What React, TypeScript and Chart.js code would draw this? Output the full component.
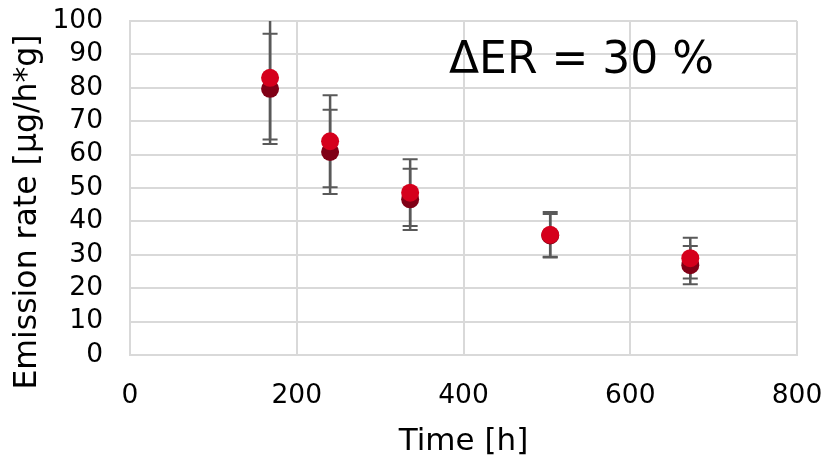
import React, { useEffect, useRef } from "react";
import { Chart, registerables } from "chart.js";

Chart.register(...registerables);

// Sampling times [h]
const timeHours = [168, 240, 336, 504, 672];
// Bright red series (drawn on top)
const brightMeans = [83, 64, 48.6, 36, 29];
const brightErrors = [18.5, 13.8, 10, 6.8, 6.1];
// Dark red series (drawn behind)
const darkMeans = [79.7, 60.8, 46.6, 35.8, 26.9];
const darkErrors = [16.5, 12.6, 9.2, 6.4, 5.7];

const xTickValues = [0, 200, 400, 600, 800];
const yTickValues = [0, 10, 20, 30, 40, 50, 60, 70, 80, 90, 100];

const xTitle = "Time [h]";
const yTitle = "Emission rate [µg/h*g]";
const annotation = "ΔER = 30 %";

const FONT = "'DejaVu Sans', Verdana, sans-serif";
const BRIGHT = "#D5001C";
const DARK = "#800016";
const ERR = "#595959";
const GRID = "#d9d9d9";

function zeroPadding(s: any) {
  s.paddingTop = 0;
  s.paddingBottom = 0;
  s.paddingLeft = 0;
  s.paddingRight = 0;
}

export default function App() {
  const ref = useRef<HTMLCanvasElement>(null);

  useEffect(() => {
    document.body.style.margin = "0";
    const canvas = ref.current!;

    const errorBars = {
      id: "errorBars",
      beforeDatasetsDraw(chart: any) {
        const { ctx, chartArea, scales } = chart;
        const sets = [
          { means: darkMeans, errs: darkErrors },
          { means: brightMeans, errs: brightErrors },
        ];
        ctx.save();
        ctx.beginPath();
        ctx.rect(chartArea.left, chartArea.top, chartArea.right - chartArea.left, chartArea.bottom - chartArea.top);
        ctx.clip();
        ctx.strokeStyle = ERR;
        const cap = 7.5;
        for (const s of sets) {
          s.means.forEach((m, i) => {
            const x = scales.x.getPixelForValue(timeHours[i]);
            const yTop = scales.y.getPixelForValue(m + s.errs[i]);
            const yBot = scales.y.getPixelForValue(m - s.errs[i]);
            ctx.lineWidth = 2.5;
            ctx.beginPath();
            ctx.moveTo(x, yTop);
            ctx.lineTo(x, yBot);
            ctx.stroke();
            ctx.lineWidth = 2;
            ctx.beginPath();
            ctx.moveTo(x - cap, yTop);
            ctx.lineTo(x + cap, yTop);
            ctx.moveTo(x - cap, yBot);
            ctx.lineTo(x + cap, yBot);
            ctx.stroke();
          });
        }
        ctx.restore();
      },
    };

    const texts = {
      id: "texts",
      afterDraw(chart: any) {
        const { ctx, chartArea } = chart;
        ctx.save();
        ctx.fillStyle = "#000";
        ctx.textBaseline = "alphabetic";
        // x title
        ctx.font = `31px ${FONT}`;
        ctx.textAlign = "center";
        ctx.fillText(xTitle, (chartArea.left + chartArea.right) / 2, 450);
        // y title
        ctx.save();
        ctx.translate(36, 212);
        ctx.rotate(-Math.PI / 2);
        ctx.font = `31.5px ${FONT}`;
        ctx.textAlign = "center";
        ctx.fillText(yTitle, 0, 0);
        ctx.restore();
        // annotation
        ctx.font = `44px ${FONT}`;
        ctx.textAlign = "left";
        ctx.fillText(annotation, 449, 73);
        ctx.restore();
      },
    };

    const tickFont = { family: FONT, size: 26.5 };

    const chart = new Chart(canvas, {
      type: "scatter",
      data: {
        datasets: [
          {
            label: "bright",
            data: timeHours.map((t, i) => ({ x: t, y: brightMeans[i] })),
            backgroundColor: BRIGHT,
            borderColor: BRIGHT,
            pointRadius: 9,
            borderWidth: 0,
            order: 0,
          },
          {
            label: "dark",
            data: timeHours.map((t, i) => ({ x: t, y: darkMeans[i] })),
            backgroundColor: DARK,
            borderColor: DARK,
            pointRadius: 9,
            borderWidth: 0,
            order: 1,
          },
        ],
      },
      options: {
        responsive: false,
        animation: false,
        events: [],
        layout: { padding: { top: 21, right: 34, bottom: 0, left: 0 } },
        plugins: { legend: { display: false }, tooltip: { enabled: false } },
        scales: {
          x: {
            type: "linear",
            min: xTickValues[0],
            max: xTickValues[xTickValues.length - 1],
            afterBuildTicks: (s: any) => {
              s.ticks = xTickValues.map((v) => ({ value: v }));
            },
            afterFit: (s: any) => {
              s.height = 106;
              zeroPadding(s);
            },
            ticks: { color: "#000", font: tickFont, padding: 25, maxRotation: 0, autoSkip: false },
            grid: { color: GRID, lineWidth: 2, drawTicks: false },
            border: { color: GRID, width: 2 },
          },
          y: {
            type: "linear",
            min: yTickValues[0],
            max: yTickValues[yTickValues.length - 1],
            afterBuildTicks: (s: any) => {
              s.ticks = yTickValues.map((v) => ({ value: v }));
            },
            afterFit: (s: any) => {
              s.width = 130;
              zeroPadding(s);
            },
            ticks: { color: "#000", font: tickFont, padding: 27, autoSkip: false },
            grid: { color: GRID, lineWidth: 2, drawTicks: false },
            border: { color: GRID, width: 2 },
          },
        },
      },
      plugins: [errorBars, texts],
    });

    return () => chart.destroy();
  }, []);

  return <canvas ref={ref} width={831} height={461} style={{ display: "block" }} />;
}
